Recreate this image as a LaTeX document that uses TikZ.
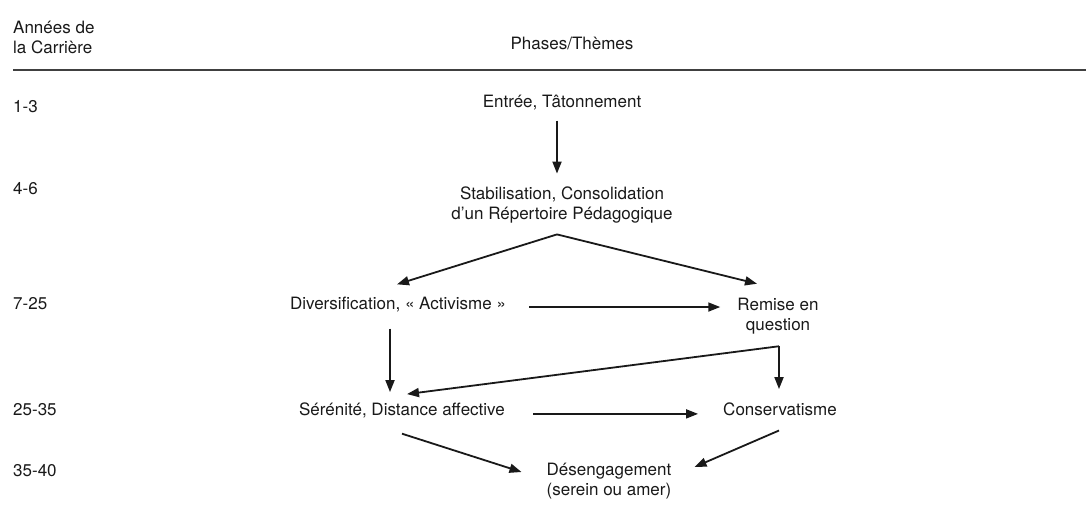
\documentclass[tikz,border=0pt]{standalone}
\usepackage{fontspec}
\setmainfont{TeX Gyre Heros}
\usetikzlibrary{arrows.meta,calc}

\begin{document}
\begin{tikzpicture}[x=1pt,y=-1pt,
    every node/.style={inner sep=0pt,text=black!90,font=\fontsize{17}{20}\selectfont},
    phase/.style={align=center},
    yr/.style={anchor=base west},
    arr/.style={line width=1.8pt,black!90,-{Triangle[length=12pt,width=9pt]}}]
    \useasboundingbox (0,0) rectangle (1086,529);

    % Header and rule
    \node[anchor=west,align=left] (annees) at (13,37) {Années de\\la Carrière};
    \node[anchor=base] (phases) at (572,50) {Phases/Thèmes};
    \draw[line width=1.4pt,black!75] (13,70) -- (1086,70);

    % Years of the career
    \foreach \name/\val/\y in {y1/1-3/113, y2/4-6/195, y3/7-25/309, y4/25-35/415, y5/35-40/476} {
        \node[yr] (\name) at (13,\y) {\val};
    }

    % Phases / themes
    \node[anchor=base] (entree) at (562,108) {Entrée, Tâtonnement};
    \node[phase] (stab) at (562,205) {Stabilisation, Consolidation\\d'un Répertoire Pédagogique};
    \node[anchor=base] (divers) at (398,309) {Diversification, « Activisme »};
    \node[phase] (remise) at (778,316) {Remise en\\question};
    \node[anchor=base] (seren) at (402,415) {Sérénité, Distance affective};
    \node[anchor=base] (conserv) at (780,415) {Conservatisme};
    \node[phase] (deseng) at (609,481) {Désengagement\\(serein ou amer)};

    % Arrows
    \coordinate (apex) at ($(stab.south)+(-5,11)$);
    \coordinate (dv) at ($(divers.south)+(-8,17)$);
    \coordinate (rq) at ($(remise.south)+(1,12)$);
    \draw[arr] ($(entree.south)+(-5,10)$) -- ($(stab.north)+(-5,-13)$);
    \draw[arr] (apex) -- ($(divers.north)+(-1,-12)$);
    \draw[arr] (apex) -- ($(remise.north)+(-21,-14)$);
    \draw[arr] ($(divers.east)+(23,3)$) -- ($(remise.west |- divers.east)+(-17,3)$);
    \draw[arr,shorten >=10pt] (dv) -- (dv |- seren.north);
    \draw[arr] (rq) -- ($(seren.north)+(5,-8)$);
    \draw[arr,shorten >=13pt] (rq) -- (rq |- conserv.north);
    \draw[arr] ($(seren.east)+(28,4)$) -- ($(conserv.west |- seren.east)+(-25,4)$);
    \draw[arr] ($(seren.south)+(0,16)$) -- ($(deseng.west)+(-25,-9)$);
    \draw[arr] ($(conserv.south)+(-1,15)$) -- ($(deseng.east)+(23,-14)$);
\end{tikzpicture}
\end{document}
